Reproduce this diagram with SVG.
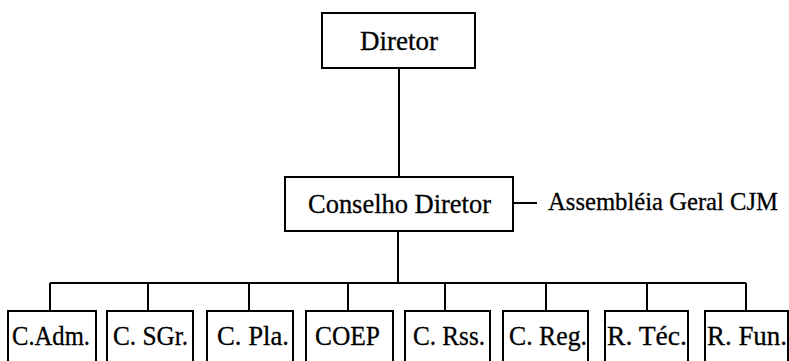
<svg xmlns="http://www.w3.org/2000/svg" width="789" height="361" viewBox="0 0 789 361">
<style>
.box{fill:#fff;stroke:#000;stroke-width:2}
.ln{fill:none;stroke:#000;stroke-width:2}
text{font-family:"Liberation Serif","Times New Roman",serif;fill:#000;stroke:#000;stroke-width:0.3;font-size:27px}
</style>
<rect width="789" height="361" fill="#fff"/>
<g id="connectors">
<path class="ln" d="M399 68V177"/>
<path class="ln" d="M398 231V283"/>
<path class="ln" d="M50 283H746"/>
<path class="ln" d="M50 283V310M148 283V310M249 283V310M348 283V310M445 283V310M546 283V310M647 283V310M746 283V310"/>
<path class="ln" d="M513 203H537"/>
</g>
<g id="diretor"><rect class="box" x="322" y="13" width="153" height="55"/><text x="360" y="50" textLength="78" lengthAdjust="spacingAndGlyphs">Diretor</text></g>
<g id="conselho"><rect class="box" x="285" y="177" width="228" height="54"/><text x="308" y="213" textLength="183" lengthAdjust="spacingAndGlyphs">Conselho Diretor</text></g>
<g id="assembleia"><text x="548" y="210" style="font-size:25px" textLength="230" lengthAdjust="spacingAndGlyphs">Assembléia Geral CJM</text></g>
<g id="cadm"><rect class="box" x="8" y="311" width="88" height="60"/><text x="12" y="345" textLength="78" lengthAdjust="spacingAndGlyphs">C.Adm.</text></g>
<g id="csgr"><rect class="box" x="107" y="311" width="86" height="60"/><text x="113" y="345" textLength="75" lengthAdjust="spacingAndGlyphs">C. SGr.</text></g>
<g id="cpla"><rect class="box" x="207" y="311" width="86" height="60"/><text x="217" y="345" textLength="72" lengthAdjust="spacingAndGlyphs">C. Pla.</text></g>
<g id="coep"><rect class="box" x="306" y="311" width="87" height="60"/><text x="315" y="345" textLength="65" lengthAdjust="spacingAndGlyphs">COEP</text></g>
<g id="crss"><rect class="box" x="405" y="311" width="85" height="60"/><text x="413" y="345" textLength="72" lengthAdjust="spacingAndGlyphs">C. Rss.</text></g>
<g id="creg"><rect class="box" x="503" y="311" width="85" height="60"/><text x="509" y="345" textLength="78" lengthAdjust="spacingAndGlyphs">C. Reg.</text></g>
<g id="rtec"><rect class="box" x="605" y="311" width="83" height="60"/><text x="607" y="345" textLength="80" lengthAdjust="spacingAndGlyphs">R. Téc.</text></g>
<g id="rfun"><rect class="box" x="705" y="311" width="83" height="60"/><text x="707" y="345" textLength="80" lengthAdjust="spacingAndGlyphs">R. Fun.</text></g>
</svg>
